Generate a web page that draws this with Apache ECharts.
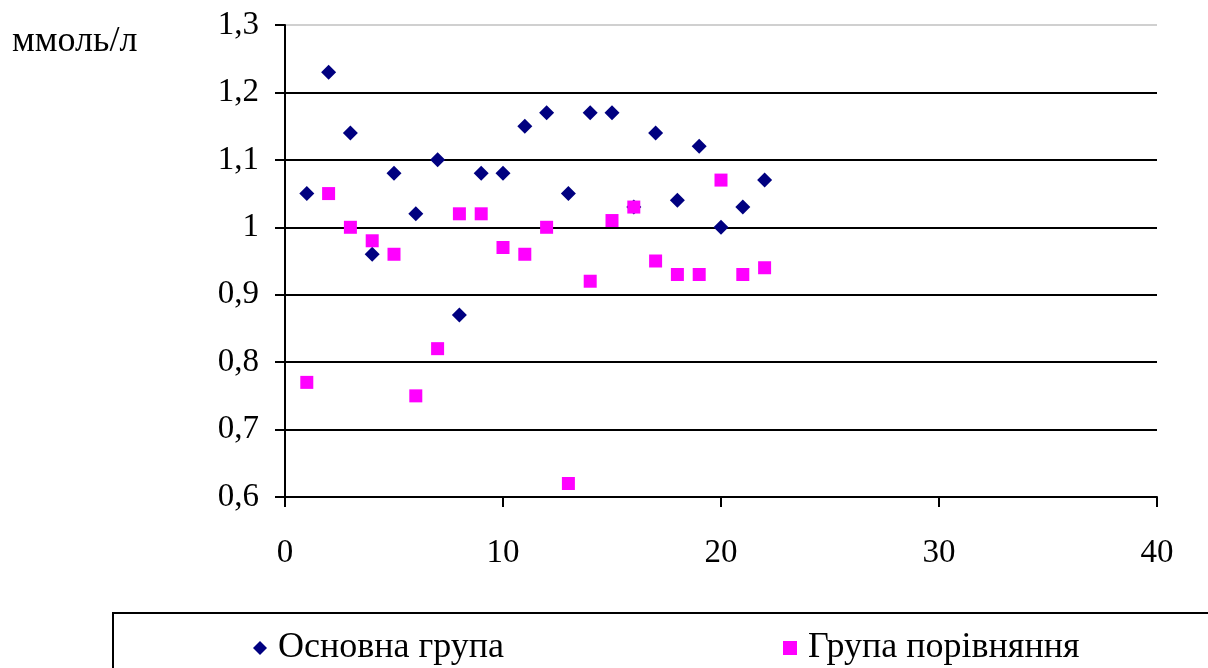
<!DOCTYPE html>
<html>
<head>
<meta charset="utf-8">
<script src="https://cdn.jsdelivr.net/npm/echarts@6/dist/echarts.min.js"></script>
<style>
  html, body { margin: 0; padding: 0; background: #fff; }
  #chart { width: 1208px; height: 668px; }
</style>
</head>
<body>
<div id="chart"></div>
<script>
// Patient index (x) and measured values, mmol/l
const patientIndex = [1,2,3,4,5,6,7,8,9,10,11,12,13,14,15,16,17,18,19,20,21,22];
const mainGroup = [1.05,1.23,1.14,0.96,1.08,1.02,1.10,0.87,1.08,1.08,1.15,1.17,1.05,1.17,1.17,1.03,1.14,1.04,1.12,1.00,1.03,1.07];
const comparisonGroup = [0.77,1.05,1.00,0.98,0.96,0.75,0.82,1.02,1.02,0.97,0.96,1.00,0.62,0.92,1.01,1.03,0.95,0.93,0.93,1.07,0.93,0.94];
const seriesNames = ['Основна група', 'Група порівняння'];
const unitLabel = 'ммоль/л';

const pairs = (xs, ys) => xs.map((x, i) => [x, ys[i]]);
const serif = '"Liberation Serif", "DejaVu Serif", serif';

const legendItem = (name, left) => ({
  data: [name],
  left: left, top: 625,
  itemWidth: 14, itemHeight: 14,
  textStyle: { color: '#000', fontFamily: serif, fontSize: 36, padding: [0, 0, 0, 6] }
});

const chart = echarts.init(document.getElementById('chart'));
chart.setOption({
  backgroundColor: '#ffffff',
  animation: false,
  grid: { left: 285, top: 25, width: 872, height: 472 },
  xAxis: {
    type: 'value',
    min: 0, max: 40, interval: 10,
    axisLine: { show: true, onZero: false, lineStyle: { color: '#000', width: 2 } },
    axisTick: { show: true, inside: false, length: 10, lineStyle: { color: '#000', width: 2 } },
    axisLabel: { color: '#000', fontFamily: serif, fontSize: 33, margin: 40 },
    splitLine: { show: false }
  },
  yAxis: {
    type: 'value',
    min: 0.6, max: 1.3, interval: 0.1,
    axisLine: { show: true, lineStyle: { color: '#000', width: 2 } },
    axisTick: { show: true, inside: false, length: 10, lineStyle: { color: '#000', width: 2 } },
    axisLabel: {
      color: '#000', fontFamily: serif, fontSize: 33, margin: 26,
      formatter: v => {
        const r = Math.round(v * 10) / 10;
        return r === 1 ? '1' : r.toFixed(1).replace('.', ',');
      }
    },
    splitLine: {
      show: true,
      lineStyle: { color: ['#000','#000','#000','#000','#000','#000','#000','#d0d0d0'], width: 2 }
    }
  },
  legend: [
    legendItem(seriesNames[0], 248),
    legendItem(seriesNames[1], 778)
  ],
  graphic: [
    {
      type: 'rect', left: 112, top: 612, z: -1,
      shape: { width: 1120, height: 80 },
      style: { fill: '#fff', stroke: '#000', lineWidth: 2 }
    },
    {
      type: 'text', left: 12, top: 24,
      style: { text: unitLabel, fill: '#000', font: '36px ' + serif }
    }
  ],
  series: [
    {
      name: seriesNames[0], type: 'scatter', symbol: 'diamond', symbolSize: 15,
      itemStyle: { color: '#000080', opacity: 1 },
      data: pairs(patientIndex, mainGroup)
    },
    {
      name: seriesNames[1], type: 'scatter', symbol: 'rect', symbolSize: 13,
      itemStyle: { color: '#ff00ff', opacity: 1 },
      data: pairs(patientIndex, comparisonGroup)
    }
  ]
});
</script>
</body>
</html>
